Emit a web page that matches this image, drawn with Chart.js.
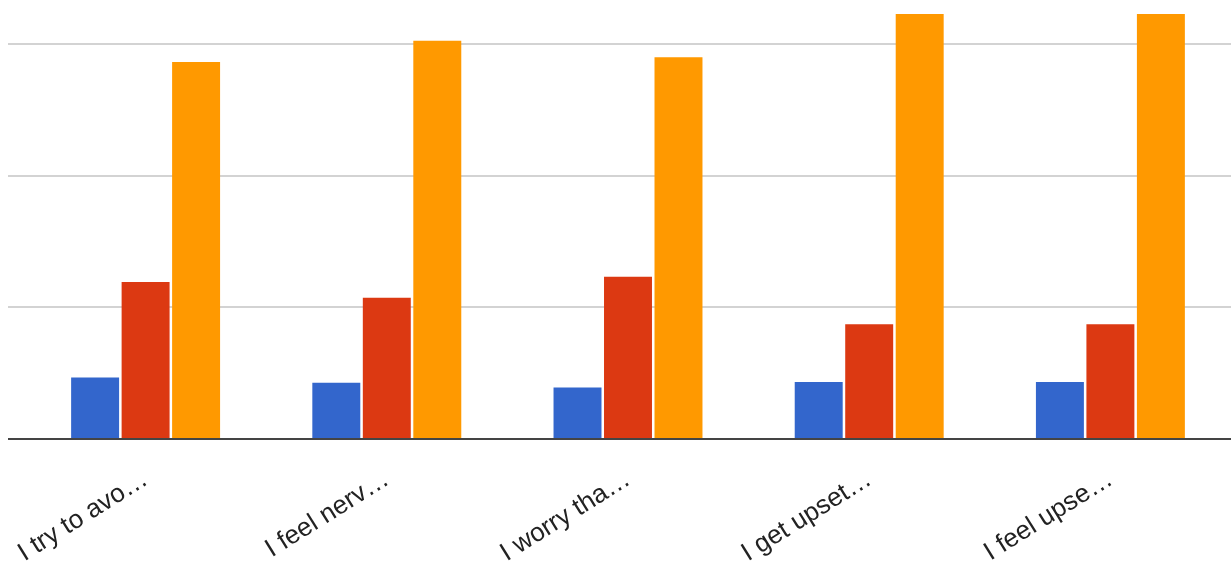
<!DOCTYPE html>
<html>
<head>
<meta charset="utf-8">
<style>
  html, body { margin: 0; padding: 0; background: #ffffff; }
  #wrap { width: 1231px; height: 563px; position: relative; overflow: hidden; }
</style>
<script src="https://cdn.jsdelivr.net/npm/chart.js@4/dist/chart.umd.min.js"></script>
</head>
<body>
<div id="wrap"><canvas id="c" width="1231" height="563"></canvas></div>
<script>
// Survey statements (shortened as shown on the axis)
const categories = ['I try to avo…', 'I feel nerv…', 'I worry tha…', 'I get upset…', 'I feel upse…'];

// Response counts per answer option
const seriesBlue   = [11.7, 10.7, 9.8, 10.8, 10.8];
const seriesRed    = [29.8, 26.8, 30.8, 21.8, 21.8];
const seriesOrange = [71.6, 75.6, 72.5, 80.7, 80.7];

// Horizontal gridline values
const gridValues = [25, 50, 75];

const colors = ['#3366cc', '#dc3912', '#ff9900'];

// Gridlines run slightly past the plot's left edge, and the baseline sits on top of the bars
const guideLines = {
  id: 'guideLines',
  beforeDatasetsDraw(chart) {
    const { ctx, scales: { y } } = chart;
    ctx.save();
    ctx.strokeStyle = '#d3d3d3';
    ctx.lineWidth = 2;
    gridValues.forEach(v => {
      const py = Math.round(y.getPixelForValue(v));
      ctx.beginPath();
      ctx.moveTo(8, py);
      ctx.lineTo(chart.width, py);
      ctx.stroke();
    });
    ctx.restore();
  },
  afterDatasetsDraw(chart) {
    const { ctx, scales: { y } } = chart;
    const py = Math.round(y.getPixelForValue(0));
    ctx.save();
    ctx.strokeStyle = '#444444';
    ctx.lineWidth = 2;
    ctx.beginPath();
    ctx.moveTo(8, py);
    ctx.lineTo(chart.width, py);
    ctx.stroke();
    ctx.restore();
  }
};

const barOpts = { borderWidth: 0, barPercentage: 0.95, categoryPercentage: 0.628 };

new Chart(document.getElementById('c'), {
  type: 'bar',
  data: {
    labels: categories,
    datasets: [
      Object.assign({ label: 'A', data: seriesBlue,   backgroundColor: colors[0] }, barOpts),
      Object.assign({ label: 'B', data: seriesRed,    backgroundColor: colors[1] }, barOpts),
      Object.assign({ label: 'C', data: seriesOrange, backgroundColor: colors[2] }, barOpts)
    ]
  },
  options: {
    responsive: false,
    animation: false,
    layout: { padding: { left: 25, right: 0, top: 0, bottom: 0 } },
    plugins: { legend: { display: false }, tooltip: { enabled: false } },
    scales: {
      x: {
        grid: { display: false },
        border: { display: false },
        ticks: {
          minRotation: 32,
          maxRotation: 32,
          autoSkip: false,
          padding: 17,
          color: '#222222',
          font: { family: "Arial, 'Liberation Sans', sans-serif", size: 26 }
        },
        afterFit(scale) {
          scale.height = 124;
          scale.paddingLeft = 0;
          scale.paddingRight = 0;
        }
      },
      y: {
        display: false,
        min: 0,
        max: 83.35
      }
    }
  },
  plugins: [guideLines]
});
</script>
</body>
</html>
